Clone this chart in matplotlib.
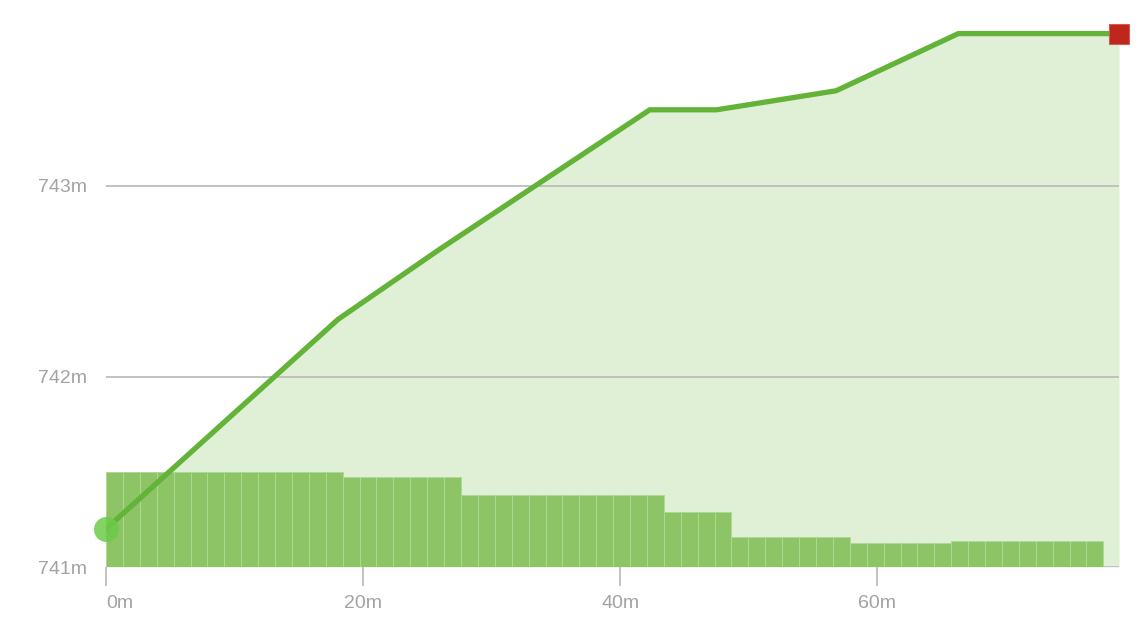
import matplotlib
matplotlib.use("Agg")
import matplotlib.pyplot as plt
import numpy as np

# elevation profile (distance in m, elevation in m)
line_dist = [0, 18.05, 26.0, 42.3, 47.5, 56.8, 66.3, 78.8]
line_elev = [741.20, 742.30, 742.67, 743.40, 743.40, 743.50, 743.80, 743.80]

# bar segments: height above baseline per group, number of thin bars per group
bar_group_heights = [0.50, 0.47, 0.38, 0.29, 0.157, 0.125, 0.135]
bar_group_counts = [14, 7, 12, 4, 7, 6, 9]
bar_width = 1.315

y_ticks = [741, 742, 743]
y_labels = ["741m", "742m", "743m"]
x_ticks = [0, 20, 40, 60]
x_labels = ["0m", "20m", "40m", "60m"]

base = 741.0
text_color = "#a3a3a3"
grid_color = "#bdbdbd"

plt.rcParams['font.family'] = ['Liberation Sans', 'DejaVu Sans']

fig = plt.figure(figsize=(11.46, 6.4), dpi=100)
ax = fig.add_axes([106 / 1146, 73 / 640, 1013 / 1146, 567 / 640])

# light fill under the elevation line
ax.fill_between(line_dist, base, line_elev, color="#e0f0d7", linewidth=0, zorder=1)

# grid lines
for yv in [742, 743]:
    ax.axhline(yv, color=grid_color, linewidth=1.3, zorder=2)
ax.axhline(base, color=grid_color, linewidth=2, zorder=2)

# bars
heights = np.repeat(bar_group_heights, bar_group_counts)
xs = np.arange(len(heights)) * bar_width
ax.bar(xs, heights, width=bar_width, bottom=base, align="edge",
       color="#8cc466", edgecolor="#afd894", linewidth=0.7, zorder=3)

# elevation line
ax.plot(line_dist, line_elev, color="#63b339", linewidth=3.8,
        solid_joinstyle="miter", zorder=4)

# start / end markers
ax.plot(line_dist[0], line_elev[0], "o", markersize=18, color="#6ccb49",
        alpha=0.85, markeredgewidth=0, clip_on=False, zorder=5)
ax.plot(line_dist[-1], line_elev[-1], "s", markersize=14, color="#bf261c",
        markeredgecolor="#d65a52", markeredgewidth=0.8, clip_on=False, zorder=5)

ax.set_xlim(0, 78.8)
ax.set_ylim(base, base + 567 / 190.5)

for s in ax.spines.values():
    s.set_visible(False)

ax.set_yticks(y_ticks)
ax.set_yticklabels(y_labels)
ax.tick_params(axis="y", length=0, pad=14, labelsize=14, labelcolor=text_color)

ax.set_xticks(x_ticks)
ax.set_xticklabels(x_labels)
ax.tick_params(axis="x", length=14, width=1.3, color=grid_color, pad=6,
               labelsize=14, labelcolor=text_color)
ax.get_xticklabels()[0].set_horizontalalignment("left")

fig.savefig("out.png", dpi=100)
